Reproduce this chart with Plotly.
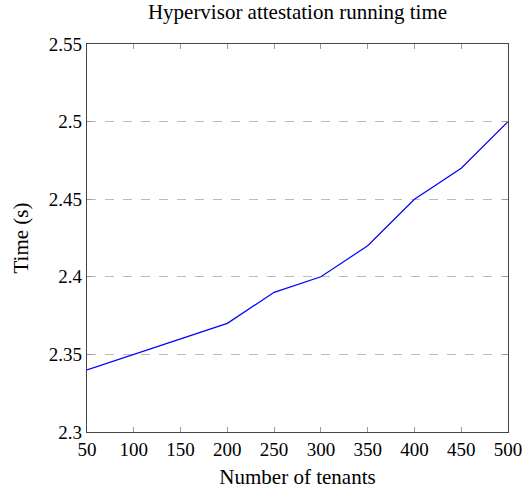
import plotly.graph_objects as go

tenants = [50, 100, 150, 200, 250, 300, 350, 400, 450, 500]
time_s = [2.34, 2.35, 2.36, 2.37, 2.39, 2.40, 2.42, 2.45, 2.47, 2.50]
x_ticks = [50, 100, 150, 200, 250, 300, 350, 400, 450, 500]
y_ticks = [2.3, 2.35, 2.4, 2.45, 2.5, 2.55]
y_labels = ["2.3", "2.35", "2.4", "2.45", "2.5", "2.55"]

FONT = "Liberation Serif"

fig = go.Figure()
fig.add_trace(go.Scatter(x=tenants, y=time_s, mode="lines",
                         line=dict(color="#0000ff", width=1.2), showlegend=False))

fig.update_layout(
    width=522, height=491,
    margin=dict(l=87, r=14, t=44, b=59),
    paper_bgcolor="white", plot_bgcolor="white",
    font=dict(family=FONT, size=19, color="black"),
    title=dict(text="Hypervisor attestation running time", xref="paper", x=0.5,
               xanchor="center", yref="container", y=1 - 12 / 491, yanchor="middle",
               font=dict(family=FONT, size=21)),
    xaxis=dict(range=[50, 500], tickvals=x_ticks, ticks="inside", ticklen=5,
               tickcolor="#999", mirror="ticks", showline=True, linecolor="#444",
               linewidth=1.2, showgrid=False, zeroline=False, automargin=False,
               ticklabeloverflow="allow",
               tickfont=dict(family=FONT, size=19),
               title=dict(text="Number of tenants", standoff=10,
                          font=dict(family=FONT, size=21))),
    yaxis=dict(range=[2.3, 2.55], tickvals=y_ticks, ticktext=y_labels, ticks="inside",
               ticklen=5, tickcolor="#999", mirror="ticks", showline=True,
               linecolor="#444", linewidth=1.2, showgrid=True, gridcolor="#bbbbbb",
               griddash="dash", gridwidth=1, zeroline=False, automargin=False,
               ticklabeloverflow="allow",
               tickfont=dict(family=FONT, size=19),
               title=dict(text="Time (s)", standoff=14,
                          font=dict(family=FONT, size=21))),
)

fig.write_html("out.html", config={"displayModeBar": False},
               post_script="document.body.style.margin='0';document.body.style.padding='0';")
